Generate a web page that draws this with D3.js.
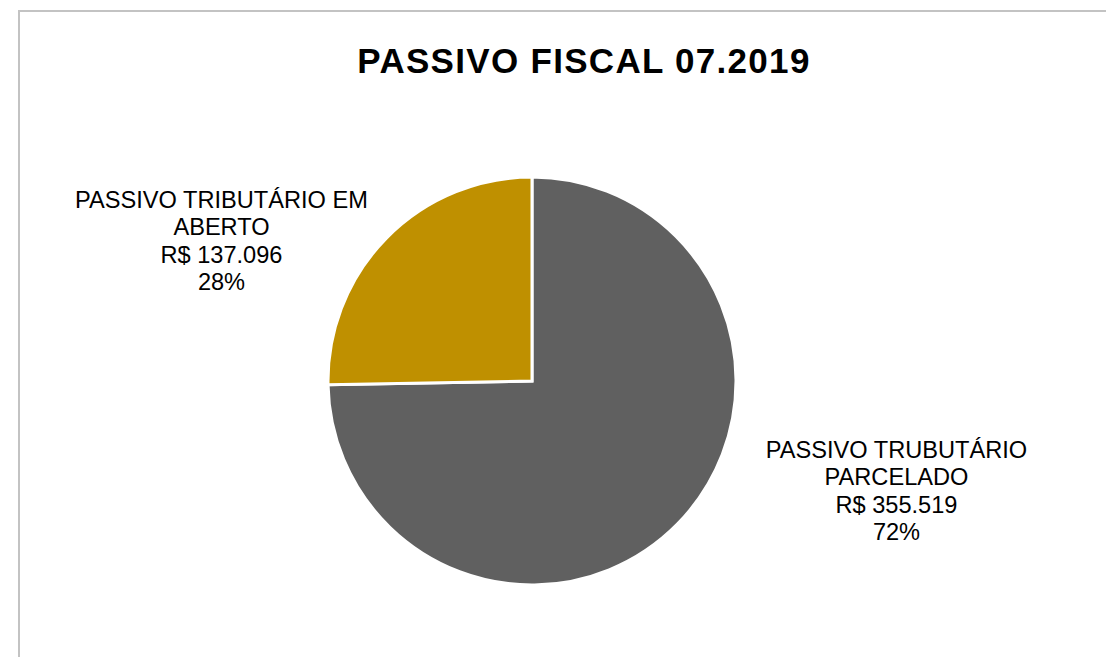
<!DOCTYPE html>
<html>
<head>
<meta charset="utf-8">
<script src="https://cdn.jsdelivr.net/npm/d3@7"></script>
<style>
  html, body { margin: 0; padding: 0; background: #fff; }
  svg { display: block; font-family: "Liberation Sans", Arial, sans-serif; }
</style>
</head>
<body>
<svg id="chart" width="1106" height="657"></svg>
<script>
// ---- data ----
const title = "PASSIVO FISCAL 07.2019";
const categories = ["PASSIVO TRUBUTÁRIO PARCELADO", "PASSIVO TRIBUTÁRIO EM ABERTO"];
// slice shares as drawn in the picture (percent of the circle)
const sliceShares = [74.7, 25.3];
const valueLabels = ["R$ 355.519", "R$ 137.096"];
const percentLabels = ["72%", "28%"];
const labelLines = [
  ["PASSIVO TRUBUTÁRIO", "PARCELADO"],
  ["PASSIVO TRIBUTÁRIO EM", "ABERTO"]
];
const colors = ["#606060", "#bf9000"];

// ---- drawing ----
const svg = d3.select("#chart");

svg.append("rect")
  .attr("x", 19).attr("y", 11)
  .attr("width", 1200).attr("height", 800)
  .attr("fill", "#fff")
  .attr("stroke", "#c3c3c3")
  .attr("stroke-width", 2);

svg.append("text")
  .attr("x", 584).attr("y", 73)
  .attr("text-anchor", "middle")
  .attr("font-size", 35)
  .attr("font-weight", "bold")
  .attr("letter-spacing", 1.3)
  .attr("fill", "#000")
  .text(title);

const cx = 532, cy = 381, r = 204;
const pie = d3.pie().sort(null).value(d => d)(sliceShares);
const arc = d3.arc().innerRadius(0).outerRadius(r);

const g = svg.append("g").attr("transform", `translate(${cx},${cy})`);
g.selectAll("path")
  .data(pie)
  .join("path")
  .attr("d", arc)
  .attr("fill", (d, i) => colors[i])
  .attr("stroke", "#fff")
  .attr("stroke-width", 3)
  .attr("stroke-linejoin", "miter");

// labels
const labelPos = [
  { x: 896.5, y: 458 },
  { x: 221.5, y: 208 }
];
const lh = 27.3;
categories.forEach((c, i) => {
  const lines = labelLines[i].concat([valueLabels[i], percentLabels[i]]);
  const t = svg.append("text")
    .attr("text-anchor", "middle")
    .attr("font-size", 23.6)
    .attr("fill", "#000");
  lines.forEach((ln, k) => {
    t.append("tspan")
      .attr("x", labelPos[i].x)
      .attr("y", labelPos[i].y + k * lh)
      .text(ln);
  });
});
</script>
</body>
</html>
